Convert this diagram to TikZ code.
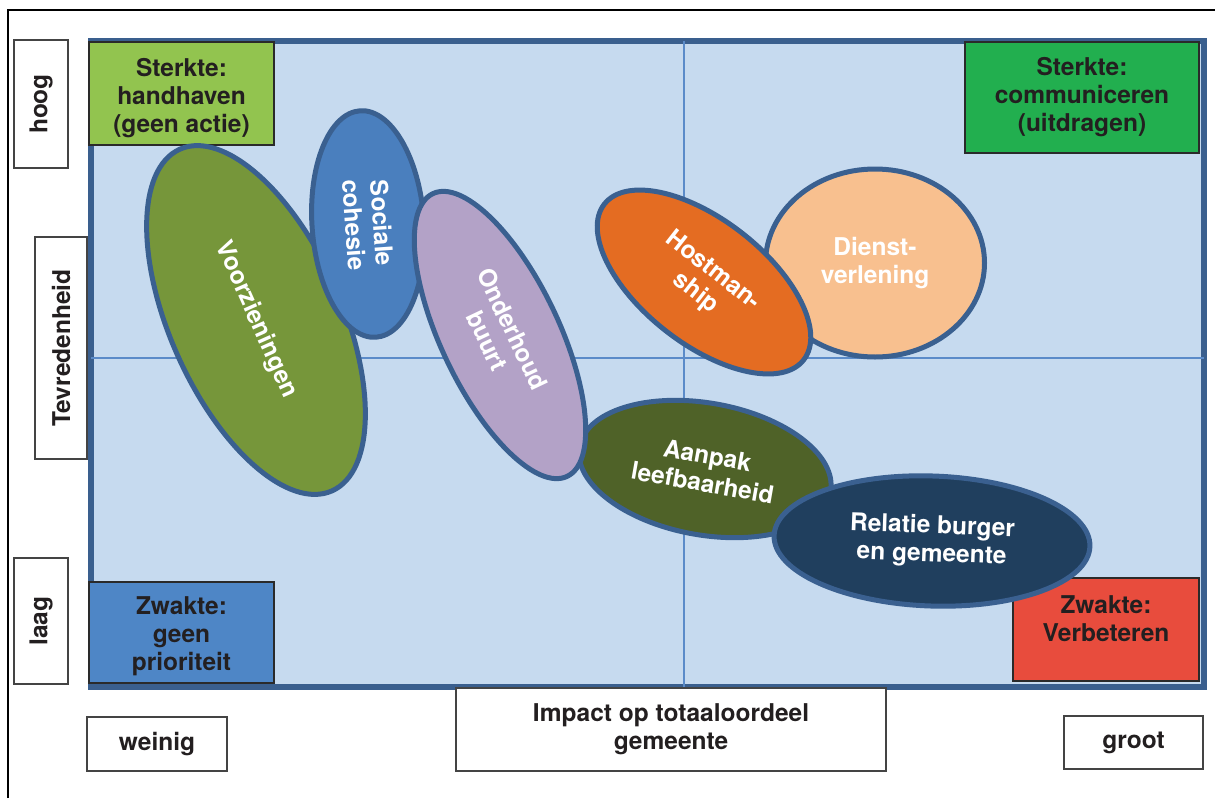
\documentclass[tikz,border=0pt]{standalone}
\usepackage{fontspec}
\setmainfont{TeX Gyre Heros}
\usetikzlibrary{shapes.geometric}
\definecolor{plotfill}{HTML}{C6DAEF}
\definecolor{plotline}{HTML}{3A5F8E}
\definecolor{divline}{HTML}{5B8BC9}
\definecolor{ovalline}{HTML}{3A6090}
\definecolor{txtgray}{HTML}{231F20}
\definecolor{boxline}{HTML}{2A2A2A}
\definecolor{graybox}{HTML}{444444}
\definecolor{cTL}{HTML}{92C44F}
\definecolor{cTR}{HTML}{22AF4F}
\definecolor{cBL}{HTML}{4E86C6}
\definecolor{cBR}{HTML}{E84C3D}
\definecolor{cVoor}{HTML}{76963A}
\definecolor{cSoc}{HTML}{4A7FBE}
\definecolor{cOnd}{HTML}{B3A2C7}
\definecolor{cHost}{HTML}{E46C22}
\definecolor{cDien}{HTML}{F8C08F}
\definecolor{cAanp}{HTML}{4F6228}
\definecolor{cRel}{HTML}{203F5E}
\begin{document}
\begin{tikzpicture}[x=1pt,y=-1pt,
  bigfont/.style={font=\fontsize{24.5}{28}\selectfont\bfseries},
  lbl/.style={bigfont, text=txtgray, align=center, inner sep=0pt},
  cbox/.style={rectangle, draw=boxline, line width=1.5pt, inner sep=0pt},
  wbox/.style={rectangle, draw=graybox, fill=white, line width=1.2pt, inner sep=0pt, bigfont, text=txtgray, align=center},
  oval/.style={ellipse, draw=ovalline, line width=5pt, inner sep=0pt, bigfont, text=white, align=center}]
\useasboundingbox (0,0) rectangle (1215,798);
% outer frame
\coordinate (fa) at (8,798);
\coordinate (fb) at (8,10);
\coordinate (fc) at (1215,10);
\draw[line width=2.5pt, black] (fa) -- (fb) -- (fc);
% plot area
\node[rectangle, draw=plotline, fill=plotfill, line width=6pt, minimum width=1113pt, minimum height=646pt, inner sep=0pt] (plot) at (647.5,364) {};
\coordinate (vt) at (684,41);
\coordinate (vb) at (684,687);
\coordinate (hl) at (91,358);
\coordinate (hr) at (1204,358);
\draw[divline, line width=1.5pt] (vt) -- (vb);
\draw[divline, line width=1.5pt] (hl) -- (hr);
% corner boxes
\node[cbox, fill=cTL, minimum width=185pt, minimum height=103pt] (tl) at (181.5,93.5) {};
\node[lbl] (tlt) at (181.5,98) {Sterkte:\\handhaven\\(geen actie)};
\node[cbox, fill=cTR, minimum width=234pt, minimum height=111pt] (tr) at (1082,97.5) {};
\node[lbl] (trt) at (1082,97) {Sterkte:\\communiceren\\(uitdragen)};
\node[cbox, fill=cBL, minimum width=185pt, minimum height=101pt] (bl) at (181.5,632.5) {};
\node[lbl] (blt) at (181.5,636) {Zwakte:\\geen\\prioriteit};
\node[cbox, fill=cBR, minimum width=186pt, minimum height=103pt] (br) at (1106,629.5) {};
\node[lbl] (brt) at (1106,619) {Zwakte:\\Verbeteren};
% ellipses
\node[oval, fill=cVoor, minimum width=374pt, minimum height=172pt, rotate=-66] (voor) at (256,320) {Voorzieningen};
\node[oval, fill=cSoc, minimum width=227pt, minimum height=112pt, rotate=-86] (soc) at (368,224) {Sociale\\cohesie};
\node[oval, fill=cAanp, minimum width=255pt, minimum height=132pt, rotate=-10] (aanp) at (705,469) {Aanpak\\leefbaarheid};
\node[oval, fill=cOnd, minimum width=313pt, minimum height=118pt, rotate=-64.6] (ond) at (500,335) {Onderhoud\\buurt};
\node[oval, fill=cRel, minimum width=316pt, minimum height=130pt, rotate=-2] (rel) at (932,541) {Relatie burger\\en gemeente};
\node[oval, fill=cDien, minimum width=219pt, minimum height=188pt] (dien) at (875,263) {Dienst-\\verlening};
\node[oval, fill=cHost, minimum width=253pt, minimum height=124pt, rotate=-38] (host) at (704,282) {Hostman-\\ship};
% axis labels
\node[wbox, minimum width=54pt, minimum height=128pt] (hoog) at (41,104) {\rotatebox{90}{hoog}};
\node[wbox, minimum width=52pt, minimum height=222pt] (tev) at (61,348) {\rotatebox{90}{Tevredenheid}};
\node[wbox, minimum width=54pt, minimum height=126pt] (laag) at (41,621) {\rotatebox{90}{laag}};
\node[wbox, minimum width=140pt, minimum height=54pt] (wein) at (157,744) {weinig};
\node[wbox, minimum width=430pt, minimum height=83pt] (imp) at (671,729.5) {Impact op totaaloordeel\\gemeente};
\node[wbox, minimum width=139pt, minimum height=53pt] (groot) at (1133.5,742.5) {groot};
\end{tikzpicture}
\end{document}
